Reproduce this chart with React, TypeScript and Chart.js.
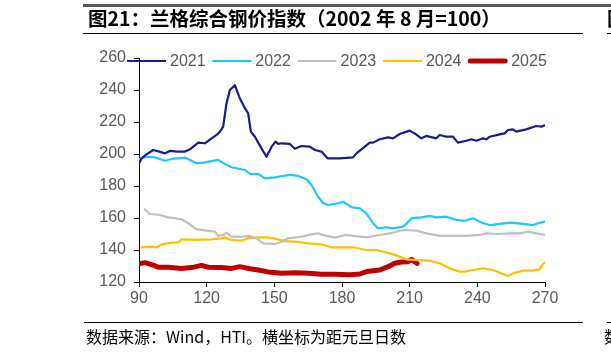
import React, { useEffect, useRef } from "react";
import { Chart, registerables } from "chart.js";

Chart.register(...registerables);

const seriesNames = ["2021", "2022", "2023", "2024", "2025"];
const seriesColors = ["#1b1b8c", "#1ec8ff", "#c0c0c0", "#ffc000", "#c00000"];
const seriesWidths = [2.2, 2.2, 2.2, 2.2, 5];

const days2021 = [90, 91.2, 93, 96.3, 99, 101.5, 103.7, 107, 110.4, 112.6, 116.3, 119.2, 122.2, 124.4, 125.9, 127.3, 128.8, 130.3, 132.5, 134.7, 137, 138.4, 139.6, 141.4, 144.3, 146.5, 148.8, 150.5, 151.7, 153.2, 156.9, 159.1, 162, 165.7, 168, 170.9, 173.6, 176.8, 179, 184.9, 186.4, 188.6, 192.3, 193.8, 196.7, 200.4, 202.6, 205.6, 210, 212.2, 215.2, 217.4, 221.8, 223.3, 226.3, 229.2, 231.4, 235.1, 237.4, 239.6, 242.5, 244, 245.5, 249.9, 252.1, 253.6, 255.8, 257.3, 261.7, 266.1, 268.4, 270];
const values2021 = [194, 197.3, 199.5, 202.5, 201.5, 200.4, 201.9, 201.5, 201.5, 202.9, 207.1, 206.7, 209.8, 211.9, 214, 217, 231.7, 240, 243, 234.8, 228.5, 225.4, 214, 210.8, 203.5, 198.3, 204.6, 207.7, 206.3, 206.7, 206.3, 203.3, 205, 204.6, 202.5, 201.5, 197.3, 197.3, 197.3, 197.9, 200.4, 202.9, 207.1, 207.1, 209.2, 210.4, 209.8, 212.5, 214.6, 212.9, 209.8, 211.3, 209.8, 211.9, 210.8, 210.8, 207.1, 208.3, 209.2, 208.3, 209.8, 209.2, 210.8, 212.3, 212.9, 215, 215.4, 214, 215.4, 217.5, 217.1, 218];

const days2022 = [90, 91, 94.1, 97, 101.5, 104.4, 110.4, 112.6, 115.5, 118.5, 125.1, 128.1, 131, 137, 139.2, 142.9, 145.8, 150.2, 156.9, 160.6, 164.3, 166.5, 169.4, 171.7, 173.9, 178.3, 180.5, 184.2, 187.9, 190.8, 193.8, 196, 199.7, 202.6, 207.1, 208.5, 210.8, 215.2, 218.9, 221.8, 226.3, 230.7, 234.4, 238.1, 241.8, 245.5, 249.9, 255.1, 260.2, 264.7, 266.9, 270];
const values2022 = [196.3, 197.5, 198.3, 197.9, 195.8, 196.9, 197.7, 196.3, 194.2, 194.6, 196.3, 193.8, 191.7, 190, 187.5, 187.5, 184.8, 185.4, 186.9, 186.3, 184.2, 180.6, 173.3, 169.2, 168.1, 169.2, 170.2, 166.7, 166, 162.9, 156.7, 153.5, 154.2, 153.5, 154.6, 156.3, 159.8, 160.4, 161.3, 160.4, 160.8, 158.8, 158.3, 159.8, 157.1, 155.6, 156.3, 157.1, 156.3, 155.6, 156.7, 157.7];

const days2023 = [92.6, 94.8, 99.3, 103, 108.9, 111.8, 115.5, 120, 123.6, 125.1, 127.3, 128.8, 131, 135.5, 138.4, 142.1, 145.1, 150.2, 153.2, 156.1, 162, 165, 169.4, 173.1, 176.8, 181.3, 184.9, 190.8, 196.7, 201.2, 207.1, 213, 217.4, 223.3, 229.2, 235.1, 241, 244, 249.2, 254.3, 258.8, 262.5, 266.1, 270];
const values2023 = [165.4, 162.5, 161.9, 160.4, 159.2, 156.7, 153.1, 152.1, 151.5, 148.8, 149.4, 150.8, 148.3, 148.3, 148.8, 147.3, 144.2, 143.8, 145.2, 147.3, 148.3, 149.4, 150.4, 148.8, 147.7, 149.4, 148.8, 147.9, 149.4, 150.4, 152.5, 152.1, 150.4, 148.8, 148.8, 148.8, 149.4, 150.4, 150, 150.4, 150.4, 151.5, 150.4, 149.4];

const days2024 = [91.2, 94.8, 97.8, 100, 104.4, 107.4, 108.9, 114.8, 122.2, 126.6, 128.1, 131, 135.5, 138.4, 142.9, 147.3, 150.2, 154.7, 159.1, 165, 170.9, 175.3, 181.3, 184.9, 190.8, 195.2, 201.2, 204.8, 208.5, 213, 218.9, 223.3, 227.7, 232.2, 234.4, 238.1, 242.5, 246.9, 251.4, 253.6, 255.8, 260.2, 264.7, 267.6, 269.1, 270];
const values2024 = [141.6, 142.1, 141.7, 143.5, 144.6, 144.8, 146.7, 146.3, 146.7, 147.3, 147.9, 146.3, 145.8, 147.3, 147.9, 147.9, 147.1, 145.6, 145.2, 144.2, 143.5, 141.7, 141.6, 141.7, 140, 140, 137.9, 136.3, 134.2, 133.75, 133.3, 131.7, 128.5, 126.5, 126.5, 127.5, 128.5, 127.5, 125, 123.8, 125.4, 127.1, 127.1, 127.9, 131.3, 132.1];

const days2025 = [90, 92.6, 96.3, 98.5, 103, 108.9, 113.3, 117.7, 120.7, 126.6, 131, 134.7, 139.2, 142.9, 147.3, 153.2, 159.1, 165, 170.9, 176.8, 183.4, 187.9, 190.8, 196.7, 200.4, 203.4, 206.3, 209.3, 210.8, 212.2, 213.3];
const values2025 = [131.3, 132.1, 130.6, 129.2, 129.2, 128.5, 129, 130.4, 129.2, 129, 128.5, 129.6, 128.3, 127.5, 126.3, 125.4, 125.8, 125.4, 124.8, 124.8, 124.6, 125, 126.5, 127.5, 129.6, 131.7, 132.5, 132.7, 134.2, 132.7, 131.7];

const xTicks = [90, 120, 150, 180, 210, 240, 270];
const yTicks = [120, 140, 160, 180, 200, 220, 240, 260];

const titleText = "图21：兰格综合钢价指数（2002 年 8 月=100）";
const footerText = "数据来源：Wind，HTI。横坐标为距元旦日数";

const allDays = [days2021, days2022, days2023, days2024, days2025];
const allValues = [values2021, values2022, values2023, values2024, values2025];

const legendPlugin = {
  id: "customLegend",
  afterDraw(chart: any) {
    const ctx = chart.ctx;
    ctx.save();
    const y = 61;
    chart.data.datasets.forEach((ds: any, i: number) => {
      const x0 = 127 + i * 85.3;
      ctx.beginPath();
      ctx.strokeStyle = ds.borderColor;
      ctx.lineWidth = ds.borderWidth;
      ctx.lineCap = i === 4 ? "round" : "butt";
      ctx.moveTo(x0 + (i === 4 ? 2 : 0), y);
      ctx.lineTo(x0 + 39 - (i === 4 ? 2 : 0), y);
      ctx.stroke();
      ctx.fillStyle = "#595959";
      ctx.font = "16px 'Liberation Sans', Arial, sans-serif";
      ctx.textBaseline = "middle";
      ctx.textAlign = "left";
      ctx.fillText(ds.label, x0 + 43, y + 1);
    });
    ctx.restore();
  },
};

export default function App() {
  const canvasRef = useRef<HTMLCanvasElement | null>(null);

  useEffect(() => {
    if (!canvasRef.current) return;
    const datasets = seriesNames.map((name, i) => ({
      label: name,
      data: allDays[i].map((d, j) => ({ x: d, y: allValues[i][j] })),
      borderColor: seriesColors[i],
      backgroundColor: seriesColors[i],
      borderWidth: seriesWidths[i],
      pointRadius: 0,
      tension: 0,
      fill: false,
      borderCapStyle: "round" as const,
      borderJoinStyle: "round" as const,
    }));
    const tickFont = { family: "'Liberation Sans', Arial, sans-serif", size: 16 };
    const chart = new Chart(canvasRef.current, {
      type: "line",
      data: { datasets },
      plugins: [legendPlugin],
      options: {
        animation: false,
        responsive: false,
        layout: { padding: { left: 0, top: 58, right: 66, bottom: 41 } },
        plugins: { legend: { display: false }, tooltip: { enabled: false }, title: { display: false } },
        scales: {
          x: {
            type: "linear",
            min: 90,
            max: 270,
            afterBuildTicks: (s: any) => {
              s.ticks = xTicks.map((v) => ({ value: v }));
            },
            afterFit: (s: any) => {
              s.height = 30;
            },
            ticks: { color: "#595959", font: tickFont, padding: 2, maxRotation: 0 },
            grid: { display: true, drawOnChartArea: false, drawTicks: true, tickLength: 5, color: "#000" },
            border: { display: true, color: "#000", width: 1 },
          },
          y: {
            type: "linear",
            min: 120,
            max: 260,
            afterBuildTicks: (s: any) => {
              s.ticks = yTicks.map((v) => ({ value: v }));
            },
            afterFit: (s: any) => {
              s.width = 139;
            },
            ticks: { color: "#595959", font: tickFont, padding: 8 },
            grid: { display: true, drawOnChartArea: false, drawTicks: true, tickLength: 5, color: "#000" },
            border: { display: true, color: "#000", width: 1 },
          },
        },
      },
    } as any);
    return () => chart.destroy();
  }, []);

  const cjk = "'Noto Sans CJK SC', 'Noto Sans', sans-serif";

  return (
    <div
      style={{
        position: "absolute",
        left: 0,
        top: 0,
        width: 611,
        height: 353,
        overflow: "hidden",
        background: "#fff",
      }}
    >
      <canvas ref={canvasRef} width={611} height={353} style={{ position: "absolute", left: 0, top: 0 }} />
      <div style={{ position: "absolute", left: 83, top: 4, width: 528, height: 3, background: "#595959" }} />
      <div
        style={{
          position: "absolute",
          left: 88,
          top: 6,
          whiteSpace: "nowrap",
          fontFamily: cjk,
          fontWeight: 700,
          fontSize: 19.5,
          lineHeight: "24px",
          color: "#000",
        }}
      >
        {titleText}
      </div>
      <div
        style={{
          position: "absolute",
          left: 607,
          top: 6,
          whiteSpace: "nowrap",
          fontFamily: cjk,
          fontWeight: 700,
          fontSize: 19.5,
          lineHeight: "24px",
          color: "#000",
        }}
      >
        图
      </div>
      <div style={{ position: "absolute", left: 83, top: 33, width: 500, height: 1, background: "#000" }} />
      <div style={{ position: "absolute", left: 607, top: 33, width: 10, height: 1, background: "#000" }} />
      <div style={{ position: "absolute", left: 84, top: 322, width: 499, height: 1, background: "#000" }} />
      <div style={{ position: "absolute", left: 607, top: 322, width: 10, height: 1, background: "#000" }} />
      <div
        style={{
          position: "absolute",
          left: 86,
          top: 325,
          whiteSpace: "nowrap",
          fontFamily: cjk,
          fontSize: 16,
          lineHeight: "22px",
          color: "#000",
        }}
      >
        {footerText}
      </div>
      <div
        style={{
          position: "absolute",
          left: 604,
          top: 325,
          whiteSpace: "nowrap",
          fontFamily: cjk,
          fontSize: 16,
          lineHeight: "22px",
          color: "#000",
        }}
      >
        数
      </div>
    </div>
  );
}
